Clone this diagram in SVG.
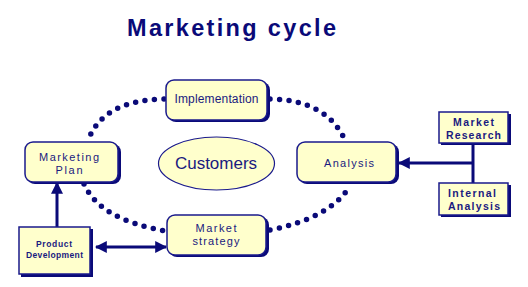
<svg xmlns="http://www.w3.org/2000/svg" width="528" height="287" viewBox="0 0 528 287">
<style>
.box{fill:#FFFFCC;stroke:#1a1a8c;stroke-width:1.5}
.shadow{fill:#0a0a78}
.t{font-family:"Liberation Sans",Arial,sans-serif;fill:#1a1a80;text-anchor:middle}
.dots{fill:none;stroke:#0a0a78;stroke-width:5.5;stroke-linecap:round;stroke-dasharray:0 9.5}
.line{fill:none;stroke:#0a0a78;stroke-width:3}
</style>
<defs>
<marker id="ah" viewBox="0 0 10 10" refX="9" refY="5" markerWidth="4" markerHeight="4" orient="auto-start-reverse" markerUnits="strokeWidth">
<path d="M0,0 L10,5 L0,10 z" fill="#0a0a78"/>
</marker>
</defs>
<rect width="528" height="287" fill="#ffffff"/>
<text id="title" class="t" x="231.5" y="36" font-size="23.5" font-weight="bold" textLength="209" lengthAdjust="spacing" style="fill:#0a0a78">Marketing cycle</text>
<g id="connectors">
<path class="dots" d="M164,99 Q105,100 89,138"/>
<path class="dots" d="M270,99 Q325,100 344,138"/>
<path class="dots" d="M84,184 Q100,220 166,231"/>
<path class="dots" d="M270,230 Q330,218 350,186"/>
<line class="line" x1="473" y1="143" x2="473" y2="183"/>
<line class="line" x1="473" y1="163" x2="399" y2="163" marker-end="url(#ah)"/>
<line class="line" x1="57" y1="227" x2="57" y2="183" marker-end="url(#ah)"/>
<line class="line" x1="96" y1="247" x2="166" y2="247" marker-start="url(#ah)" marker-end="url(#ah)"/>
</g>
<g id="implementation">
<rect class="shadow" x="168" y="82" width="102" height="40" rx="8"/>
<rect class="box" x="166" y="80" width="101" height="40" rx="8"/>
<text class="t" x="216.5" y="103" font-size="12" textLength="84" lengthAdjust="spacing">Implementation</text>
</g>
<g id="marketing-plan">
<rect class="shadow" x="27" y="144" width="94" height="40" rx="8"/>
<rect class="box" x="25" y="142" width="93" height="40" rx="8"/>
<text class="t" x="69" y="161" font-size="11" textLength="60" lengthAdjust="spacing">Marketing</text>
<text class="t" x="69" y="174" font-size="11" textLength="27" lengthAdjust="spacing">Plan</text>
</g>
<g id="analysis">
<rect class="shadow" x="299" y="144" width="100" height="40" rx="8"/>
<rect class="box" x="297" y="142" width="99" height="40" rx="8"/>
<text class="t" x="349" y="167" font-size="11" textLength="50" lengthAdjust="spacing">Analysis</text>
</g>
<g id="customers">
<ellipse class="box" cx="216.5" cy="163.5" rx="58" ry="26.5" style="stroke-width:1.2"/>
<text class="t" x="216" y="169" font-size="17">Customers</text>
</g>
<g id="market-strategy">
<rect class="shadow" x="169" y="217" width="100" height="40" rx="8"/>
<rect class="box" x="167" y="215" width="99" height="40" rx="8"/>
<text class="t" x="216" y="232" font-size="11" textLength="41" lengthAdjust="spacing">Market</text>
<text class="t" x="216" y="245" font-size="11" textLength="47" lengthAdjust="spacing">strategy</text>
</g>
<g id="market-research">
<rect class="shadow" x="441" y="114" width="70" height="31"/>
<rect class="box" x="439" y="112" width="69" height="31"/>
<text class="t" x="473.5" y="126" font-size="10.5" font-weight="bold" textLength="41" lengthAdjust="spacing">Market</text>
<text class="t" x="473.5" y="138.5" font-size="10.5" font-weight="bold" textLength="55" lengthAdjust="spacing">Research</text>
</g>
<g id="internal-analysis">
<rect class="shadow" x="441" y="185" width="70" height="32"/>
<rect class="box" x="439" y="183" width="69" height="32"/>
<text class="t" x="472" y="197" font-size="10.5" font-weight="bold" textLength="48" lengthAdjust="spacing">Internal</text>
<text class="t" x="474" y="210" font-size="10.5" font-weight="bold" textLength="52" lengthAdjust="spacing">Analysis</text>
</g>
<g id="product-development">
<rect class="shadow" x="21" y="229" width="72" height="48"/>
<rect class="box" x="19" y="227" width="71" height="47"/>
<text class="t" x="54" y="247" font-size="8.5" font-weight="bold" textLength="36" lengthAdjust="spacing">Product</text>
<text class="t" x="54.5" y="258" font-size="8.5" font-weight="bold" textLength="57" lengthAdjust="spacing">Development</text>
</g>
</svg>
